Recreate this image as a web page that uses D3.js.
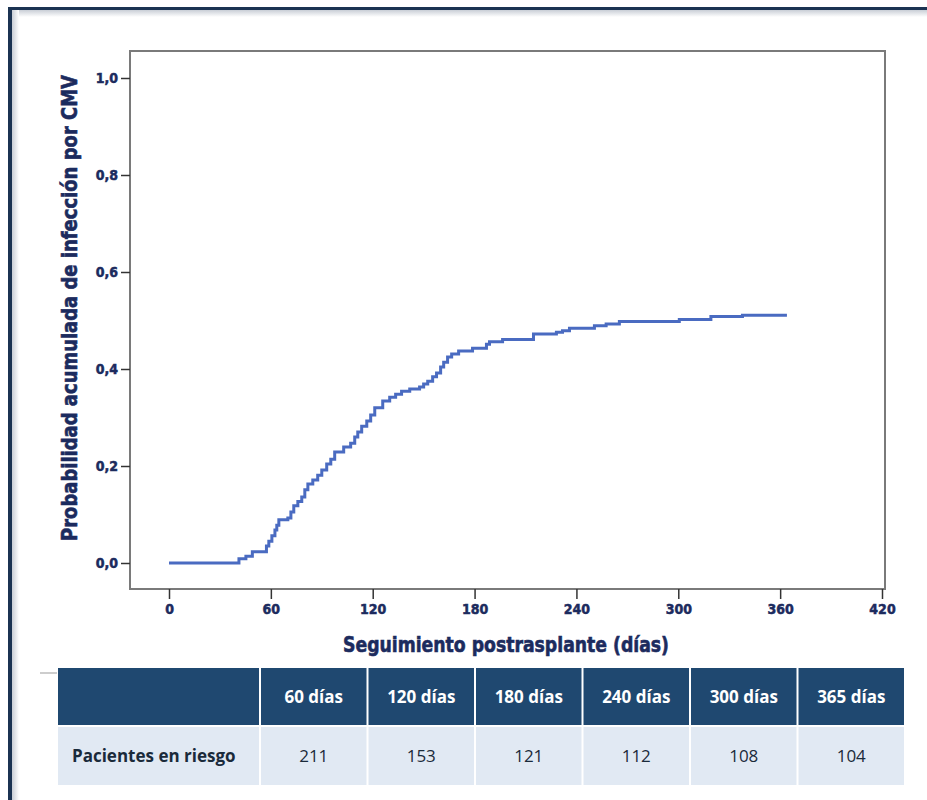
<!DOCTYPE html>
<html>
<head>
<meta charset="utf-8">
<script src="https://cdn.jsdelivr.net/npm/d3@7/dist/d3.min.js"></script>
<style>
  html, body { margin: 0; padding: 0; background: #ffffff; }
  svg { display: block; }
</style>
</head>
<body>
<svg id="chart" width="927" height="800"></svg>
<script>
// Cumulative incidence of CMV infection: step times (days) and cumulative probability after each step
const stepDays = [0, 41.2, 45.3, 49.1, 57.4, 58.8, 60.6, 62.4, 63.5, 64.7, 70, 71.8, 73.5, 75.9, 78.2,
  80, 81.8, 84.7, 87.6, 90, 92.9, 95.3, 97.6, 102.9, 107, 109.4, 111.2, 113.5, 116.5, 118.8,
  121.2, 125.9, 130, 133.5, 137, 141.8, 147.6, 150, 152.4, 155.3, 157.6, 160, 161.8, 164.1,
  166.5, 170.6, 178.8, 187, 188.8, 196.5, 214.7, 228.2, 231.8, 235.9, 250.6, 257.5, 265.3,
  300.6, 319.2, 337.8, 364];
const cumProb = [0, 0.009, 0.014, 0.023, 0.035, 0.045, 0.056, 0.068, 0.078, 0.089, 0.093, 0.105, 0.118,
  0.127, 0.136, 0.151, 0.163, 0.171, 0.181, 0.192, 0.204, 0.214, 0.229, 0.239, 0.247, 0.260,
  0.270, 0.282, 0.293, 0.305, 0.320, 0.334, 0.342, 0.348, 0.354, 0.359, 0.363, 0.369, 0.375,
  0.384, 0.392, 0.404, 0.414, 0.425, 0.431, 0.437, 0.443, 0.451, 0.456, 0.461, 0.472, 0.476,
  0.479, 0.484, 0.489, 0.493, 0.498, 0.502, 0.508, 0.511, 0.511];

const xTicks = [0, 60, 120, 180, 240, 300, 360, 420];
const yTicks = [0, 0.2, 0.4, 0.6, 0.8, 1.0];

// Patients at risk table
const riskHeaders = ["60 días", "120 días", "180 días", "240 días", "300 días", "365 días"];
const riskCounts = [211, 153, 121, 112, 108, 104];
const riskRowLabel = "Pacientes en riesgo";

const xTitle = "Seguimiento postrasplante (días)";
const yTitle = "Probabilidad acumulada de infección por CMV";

const svg = d3.select("#chart");
const navy = "#1c2b5e";
const axisFont = "'DejaVu Sans Condensed', 'Liberation Sans Narrow', sans-serif";
const tableFont = "'Open Sans', 'Noto Sans', sans-serif";

// Framed panel: dark border on the top and left with a soft inner shadow
const defs = svg.append("defs");
const gTop = defs.append("linearGradient").attr("id", "shTop").attr("x1", 0).attr("y1", 0).attr("x2", 0).attr("y2", 1);
gTop.append("stop").attr("offset", "0%").attr("stop-color", "#c9ced6");
gTop.append("stop").attr("offset", "100%").attr("stop-color", "#ffffff");
const gLeft = defs.append("linearGradient").attr("id", "shLeft").attr("x1", 0).attr("y1", 0).attr("x2", 1).attr("y2", 0);
gLeft.append("stop").attr("offset", "0%").attr("stop-color", "#c9ced6");
gLeft.append("stop").attr("offset", "100%").attr("stop-color", "#ffffff");

svg.append("rect").attr("x", 12).attr("y", 10).attr("width", 915).attr("height", 7).attr("fill", "url(#shTop)");
svg.append("rect").attr("x", 12).attr("y", 10).attr("width", 7).attr("height", 790).attr("fill", "url(#shLeft)");
svg.append("rect").attr("x", 8).attr("y", 7).attr("width", 919).attr("height", 3).attr("fill", "#1b3352");
svg.append("rect").attr("x", 8).attr("y", 7).attr("width", 4).attr("height", 793).attr("fill", "#1b3352");

// Plot box and scales
const box = { left: 130, top: 51, right: 885, bottom: 589 };
const x = d3.scaleLinear().domain([0, 420]).range([169, 882]);
const y = d3.scaleLinear().domain([0, 1]).range([563, 78]);

svg.append("rect")
  .attr("x", box.left).attr("y", box.top)
  .attr("width", box.right - box.left).attr("height", box.bottom - box.top)
  .attr("fill", "#ffffff").attr("stroke", "#7a7a7a").attr("stroke-width", 2);

// Y axis
const yAxis = d3.axisLeft(y).tickValues(yTicks).tickSize(9).tickPadding(3)
  .tickFormat(d => d3.format(".1f")(d).replace(".", ","));
const gy = svg.append("g").attr("transform", `translate(${box.left},0)`).call(yAxis);
gy.select(".domain").remove();
gy.selectAll(".tick line").attr("stroke", "#333").attr("stroke-width", 1.5);
gy.selectAll(".tick text").attr("fill", navy).attr("font-family", axisFont)
  .attr("font-weight", "bold").attr("font-size", 14)
  .attr("stroke", navy).attr("stroke-width", 0.5);

// X axis
const xAxis = d3.axisBottom(x).tickValues(xTicks).tickSize(10).tickPadding(5).tickFormat(d3.format("d"));
const gx = svg.append("g").attr("transform", `translate(0,${box.bottom})`).call(xAxis);
gx.select(".domain").remove();
gx.selectAll(".tick line").attr("stroke", "#333").attr("stroke-width", 1.5);
gx.selectAll(".tick text").attr("fill", navy).attr("font-family", axisFont)
  .attr("font-weight", "bold").attr("font-size", 14)
  .attr("stroke", navy).attr("stroke-width", 0.5);

// Axis titles
svg.append("text")
  .attr("x", 506).attr("y", 652).attr("text-anchor", "middle")
  .attr("fill", navy).attr("font-family", axisFont).attr("font-weight", "bold").attr("font-size", 22)
  .attr("stroke", navy).attr("stroke-width", 0.6)
  .attr("textLength", 326).attr("lengthAdjust", "spacingAndGlyphs")
  .text(xTitle);

svg.append("text")
  .attr("transform", "translate(77,308) rotate(-90)")
  .attr("text-anchor", "middle")
  .attr("fill", navy).attr("font-family", axisFont).attr("font-weight", "bold").attr("font-size", 21)
  .attr("stroke", navy).attr("stroke-width", 0.6)
  .attr("textLength", 466).attr("lengthAdjust", "spacingAndGlyphs")
  .text(yTitle);

// Cumulative incidence step curve
const pts = stepDays.map((d, i) => [d, cumProb[i]]);
const line = d3.line().x(d => x(d[0])).y(d => y(d[1])).curve(d3.curveStepAfter);
svg.append("path").datum(pts)
  .attr("d", line).attr("fill", "none")
  .attr("stroke", "#4a6bc1").attr("stroke-width", 3);

// Patients-at-risk table
const tbl = { left: 58, top: 668, labelW: 201, colW: 105.5, gap: 2, headH: 57, rowH: 58 };
svg.append("line").attr("x1", 40).attr("x2", 57).attr("y1", 673).attr("y2", 673)
  .attr("stroke", "#bdbdbd").attr("stroke-width", 1.5);

const colX = i => tbl.left + tbl.labelW + tbl.gap + i * (tbl.colW + tbl.gap);
const rowY = tbl.top + tbl.headH + tbl.gap;

svg.append("rect").attr("x", tbl.left).attr("y", tbl.top)
  .attr("width", tbl.labelW).attr("height", tbl.headH).attr("fill", "#1f4870");
svg.append("rect").attr("x", tbl.left).attr("y", rowY)
  .attr("width", tbl.labelW).attr("height", tbl.rowH).attr("fill", "#e1e9f3");
svg.append("text").attr("x", 72).attr("y", rowY + tbl.rowH / 2 + 6)
  .attr("fill", "#1a2a3a").attr("font-family", tableFont).attr("font-weight", "bold")
  .attr("font-size", 17).text(riskRowLabel);

const head = svg.append("g").selectAll("g").data(riskHeaders).join("g");
head.append("rect").attr("x", (d, i) => colX(i)).attr("y", tbl.top)
  .attr("width", tbl.colW).attr("height", tbl.headH).attr("fill", "#1f4870");
head.append("text").attr("x", (d, i) => colX(i) + tbl.colW / 2).attr("y", tbl.top + tbl.headH / 2 + 6)
  .attr("text-anchor", "middle").attr("fill", "#ffffff").attr("font-family", tableFont)
  .attr("font-weight", "bold").attr("font-size", 17).text(d => d);

const body = svg.append("g").selectAll("g").data(riskCounts).join("g");
body.append("rect").attr("x", (d, i) => colX(i)).attr("y", rowY)
  .attr("width", tbl.colW).attr("height", tbl.rowH).attr("fill", "#e1e9f3");
body.append("text").attr("x", (d, i) => colX(i) + tbl.colW / 2).attr("y", rowY + tbl.rowH / 2 + 6)
  .attr("text-anchor", "middle").attr("fill", "#1a2a3a").attr("font-family", tableFont)
  .attr("font-size", 17).text(d => d);
</script>
</body>
</html>
